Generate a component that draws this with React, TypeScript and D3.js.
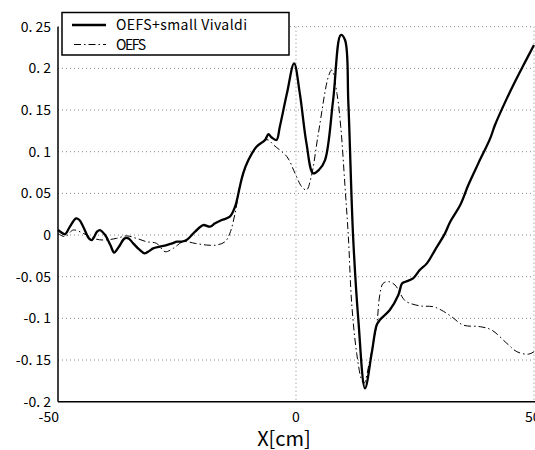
import React from "react";
import * as d3 from "d3";

const vivaldiX = [-50, -49, -48.5, -47.5, -46.2, -45.5, -44.7, -43.5, -42.9, -41.8, -41.2, -40.1, -39, -38.2, -37.2, -36, -35.2, -34.2, -33, -31.8, -30.8, -30, -28.6, -27.2, -26, -25, -24, -23, -21.2, -19.5, -18.1, -17, -15.6, -13.9, -12.8, -11.8, -11.1, -10, -8.3, -6.5, -5.8, -5.1, -4.1, -3.4, -1.9, -0.4, 0.8, 2.2, 3.6, 4.8, 6.1, 7.8, 9.4, 10.3, 11.0, 12.0, 13.1, 14.5, 15.9, 16.95, 17.6, 19.7, 21.5, 22.3, 23, 24.6, 26, 27.5, 29.2, 31.3, 32.4, 34.5, 36.2, 38.3, 40.8, 41.8, 44.3, 46, 47.8, 50];
const vivaldiY = [0.006, 0.002, 0.001, 0.01, 0.02, 0.018, 0.01, -0.004, -0.006, 0.004, 0.006, 0.0, -0.012, -0.021, -0.014, -0.004, -0.004, -0.01, -0.017, -0.022, -0.019, -0.016, -0.014, -0.012, -0.01, -0.008, -0.008, -0.006, 0.004, 0.012, 0.01, 0.014, 0.018, 0.022, 0.034, 0.058, 0.074, 0.09, 0.106, 0.114, 0.121, 0.117, 0.114, 0.13, 0.17, 0.206, 0.17, 0.11, 0.074, 0.078, 0.09, 0.162, 0.24, 0.234, 0.158, -0.002, -0.102, -0.184, -0.142, -0.108, -0.102, -0.09, -0.072, -0.058, -0.056, -0.052, -0.042, -0.034, -0.018, 0.002, 0.016, 0.036, 0.06, 0.086, 0.116, 0.132, 0.164, 0.184, 0.204, 0.228];

const oefsX = [-50, -48.5, -46.8, -44.7, -42.6, -40.5, -37.7, -35.6, -33.5, -31.4, -29.3, -27.5, -25.8, -23.7, -21.2, -18.8, -16.7, -14.9, -13.9, -12.8, -11.8, -11, -10, -8.3, -6.5, -5.8, -4.7, -1.9, -0.2, 1.2, 2.2, 3.2, 4.7, 6.8, 7.5, 8.6, 9.4, 10.3, 11.0, 11.7, 12.75, 13.8, 14.3, 15.5, 16.95, 17.6, 18.3, 19.5, 20.8, 22.5, 23.2, 26, 28.8, 30.5, 32.7, 35.1, 38.7, 41.1, 44.3, 46.4, 48.8, 50];
const oefsY = [0.002, -0.002, 0.006, 0.002, -0.004, -0.006, -0.004, -0.001, -0.004, -0.008, -0.01, -0.02, -0.016, -0.008, -0.01, -0.012, -0.012, -0.008, 0.002, 0.026, 0.058, 0.074, 0.09, 0.106, 0.114, 0.114, 0.108, 0.094, 0.074, 0.058, 0.054, 0.07, 0.122, 0.19, 0.198, 0.17, 0.13, 0.058, -0.002, -0.082, -0.142, -0.174, -0.178, -0.15, -0.108, -0.072, -0.058, -0.056, -0.06, -0.076, -0.08, -0.085, -0.086, -0.09, -0.098, -0.108, -0.11, -0.114, -0.13, -0.14, -0.143, -0.14];

const yTicks = [0.25, 0.2, 0.15, 0.1, 0.05, 0, -0.05, -0.1, -0.15, -0.2];
const yTickLabels = ["0. 25", "0. 2", "0. 15", "0. 1", "0. 05", "0", "-0. 05", "-0. 1", "-0. 15", "-0. 2"];
const xTicks = [-50, 0, 50];
const xTickLabels = ["-50", "0", "50"];
const seriesNames = ["OEFS+small Vivaldi", "OEFS"];
const xTitle = "X[cm]";

const FONT = "'Noto Sans CJK JP', 'Noto Sans', sans-serif";

export default function App() {
  const x = d3.scaleLinear().domain([-50, 50]).range([58, 534]);
  const y = d3.scaleLinear().domain([-0.2, 0.25]).range([401.7, 26.7]);
  const line = d3
    .line<[number, number]>()
    .x((d) => x(d[0]))
    .y((d) => y(d[1]))
    .curve(d3.curveCatmullRom.alpha(0.5));
  const vivaldi: [number, number][] = vivaldiX.map((v, i) => [v, vivaldiY[i]]);
  const oefs: [number, number][] = oefsX.map((v, i) => [v, oefsY[i]]);
  const dash = "7,3,1.5,3";
  return (
    <svg
      width={535}
      height={450}
      style={{ position: "absolute", left: 0, top: 0, background: "#fff" }}
      fontFamily={FONT}
    >
      <rect x={0} y={0} width={535} height={450} fill="#fff" />
      {yTicks.map((t) => (
        <line key={"gy" + t} x1={x(-50)} x2={x(50)} y1={y(t)} y2={y(t)} stroke="#888" strokeWidth={1} strokeDasharray="1,3" />
      ))}
      {xTicks.slice(1).map((t) => (
        <line key={"gx" + t} x1={x(t)} x2={x(t)} y1={y(0.25)} y2={y(-0.2)} stroke="#888" strokeWidth={1} strokeDasharray="1,3" />
      ))}
      <path d={line(oefs) || ""} fill="none" stroke="#000" strokeWidth={1} strokeDasharray={dash} />
      <path d={line(vivaldi) || ""} fill="none" stroke="#000" strokeWidth={2.3} strokeLinejoin="round" />
      <line x1={x(-50)} x2={x(-50)} y1={y(0.25)} y2={y(-0.2)} stroke="#000" strokeWidth={1.5} />
      <line x1={x(-50)} x2={535} y1={y(-0.2)} y2={y(-0.2)} stroke="#000" strokeWidth={1.5} />
      {yTicks.map((t, i) => (
        <text key={"ty" + t} x={51} y={y(t)} dy="0.36em" textAnchor="end" fontSize={14} fill="#000">
          {yTickLabels[i]}
        </text>
      ))}
      {xTicks.map((t, i) => (
        <text
          key={"tx" + t}
          x={i === 0 ? x(t) + 1 : i === 1 ? x(t) : x(t) - 9}
          y={422}
          textAnchor={i === 0 ? "end" : i === 1 ? "middle" : "start"}
          fontSize={14}
          fill="#000"
        >
          {xTickLabels[i]}
        </text>
      ))}
      <text x={284} y={446} textAnchor="middle" fontSize={20} fill="#000">
        {xTitle}
      </text>
      <rect x={62} y={12.5} width={227} height={42.5} fill="#fff" stroke="#000" strokeWidth={1.5} />
      <line x1={72} x2={106} y1={25} y2={25} stroke="#000" strokeWidth={2.3} />
      <line x1={72} x2={106} y1={44.5} y2={44.5} stroke="#000" strokeWidth={1} strokeDasharray="7,3,1.5,3" strokeDashoffset={-2} />
      <text x={116} y={25} dy="0.36em" fontSize={14} fill="#000" textLength={131} lengthAdjust="spacing">
        {seriesNames[0]}
      </text>
      <text x={116} y={44.5} dy="0.36em" fontSize={14} fill="#000" textLength={30} lengthAdjust="spacing">
        {seriesNames[1]}
      </text>
    </svg>
  );
}
